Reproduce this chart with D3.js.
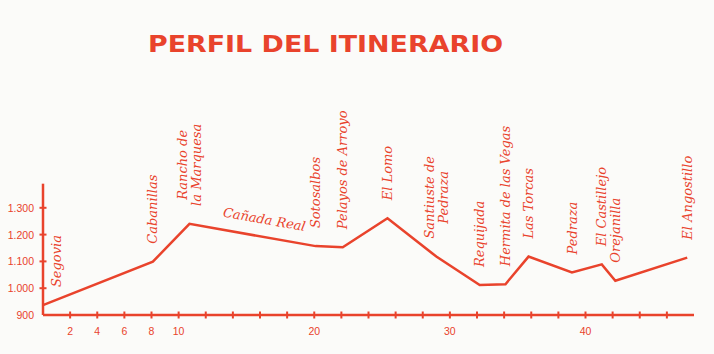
<!DOCTYPE html>
<html>
<head>
<meta charset="utf-8">
<script src="https://cdn.jsdelivr.net/npm/d3@7"></script>
<style>
  html, body { margin: 0; padding: 0; background: #fbfbf9; }
  svg { display: block; }
</style>
</head>
<body>
<div id="chart"></div>
<script>
// stops along the route (km from Segovia, altitude in m)
const stopNames = ["Segovia", "Cabanillas", "Rancho de\nla Marquesa", "Sotosalbos", "Pelayos de Arroyo",
    "El Lomo", "Santiuste de\nPedraza", "Requijada", "Hermita de las Vegas", "Las Torcas",
    "Pedraza", "El Castillejo", "Orejanilla", "El Angostillo"];
const stopKm = [0, 8.1, 10.8, 20.1, 22.1, 25.4, 29.0, 32.2, 34.1, 35.8, 39.0, 41.2, 42.2, 47.5];
const stopAlt = [937, 1099, 1240, 1157, 1153, 1261, 1118, 1012, 1015, 1118, 1059, 1089, 1028, 1114];

// route name drawn along a segment (between two stops)
const routeName = "Cañada Real";
const routeFrom = 2, routeTo = 3;

const xTicks = d3.range(2, 48, 2);
const xTickLabels = [2, 4, 6, 8, 10, 20, 30, 40];
const yTicks = [1000, 1100, 1200, 1300];
const yTickLabels = [900, 1000, 1100, 1200, 1300];

const title = "PERFIL DEL ITINERARIO";

const width = 714, height = 354;
const red = "#e9432c";

const x = d3.scaleLinear().domain([0, 48]).range([43, 694]);
const y = d3.scaleLinear().domain([900, 1400]).range([315, 181]);

const es = d3.formatLocale({ decimal: ",", thousands: ".", grouping: [3], currency: ["", "€"] });
const fmt = es.format(",d");

const svg = d3.select("#chart").append("svg")
    .attr("width", width)
    .attr("height", height);

svg.append("rect").attr("width", width).attr("height", height).attr("fill", "#fbfbf9");

// title
svg.append("text")
    .attr("x", 148)
    .attr("y", 52)
    .attr("textLength", 355)
    .attr("lengthAdjust", "spacingAndGlyphs")
    .attr("font-family", "DejaVu Sans")
    .attr("font-weight", "bold")
    .attr("font-size", 23)
    .attr("fill", red)
    .text(title);

// axes
const axes = svg.append("g").attr("stroke", red).attr("stroke-width", 2.5).attr("fill", "none");
axes.append("line").attr("x1", x(0)).attr("x2", x(0)).attr("y1", y(1390)).attr("y2", y(900));
axes.append("line").attr("x1", x(0)).attr("x2", x(48)).attr("y1", y(900)).attr("y2", y(900));

axes.selectAll(".xt").data(xTicks).join("line")
    .attr("x1", d => x(d)).attr("x2", d => x(d))
    .attr("y1", y(900) - 3.5).attr("y2", y(900) + 3.5)
    .attr("stroke-width", 2);
axes.selectAll(".yt").data(yTicks).join("line")
    .attr("x1", x(0) - 3.5).attr("x2", x(0) + 3.5)
    .attr("y1", d => y(d)).attr("y2", d => y(d))
    .attr("stroke-width", 2);

svg.append("g")
    .attr("font-family", "Liberation Sans")
    .attr("font-size", 10.5)
    .attr("fill", red)
    .attr("text-anchor", "middle")
    .selectAll("text").data(xTickLabels).join("text")
    .attr("x", d => x(d))
    .attr("y", 335)
    .text(d => d);

svg.append("g")
    .attr("font-family", "Liberation Sans")
    .attr("font-size", 10.5)
    .attr("fill", red)
    .attr("text-anchor", "end")
    .selectAll("text").data(yTickLabels).join("text")
    .attr("x", 34)
    .attr("y", d => y(d) + 4)
    .text(d => fmt(d));

// profile line
const line = d3.line().x(d => x(d[0])).y(d => y(d[1]));
svg.append("path")
    .datum(d3.zip(stopKm, stopAlt))
    .attr("d", line)
    .attr("fill", "none")
    .attr("stroke", red)
    .attr("stroke-width", 2.5)
    .attr("stroke-linejoin", "miter");

// stop labels, rotated, sitting above each point
const labelFont = "DejaVu Serif";
const labels = svg.append("g")
    .attr("font-family", labelFont)
    .attr("font-style", "italic")
    .attr("font-size", 13)
    .attr("fill", red);

stopNames.forEach((name, i) => {
    const lines = name.split("\n");
    const px = Math.max(x(stopKm[i]), x(0) + 13);
    const py = y(stopAlt[i]) - 18;
    const t = labels.append("text")
        .attr("transform", `translate(${px},${py}) rotate(-90)`);
    const spans = t.selectAll("tspan").data(lines).join("tspan")
        .attr("x", 0)
        .attr("y", (d, j) => `${(j - (lines.length - 1) / 2) * 1.1 + 0.35}em`)
        .text(d => d);
    if (lines.length > 1) {
        const maxLen = d3.max(spans.nodes(), n => n.getComputedTextLength());
        spans.attr("x", maxLen / 2).attr("text-anchor", "middle");
    }
});

// route label along the segment
const ax = x(stopKm[routeFrom]), ay = y(stopAlt[routeFrom]);
const bx = x(stopKm[routeTo]), by = y(stopAlt[routeTo]);
const ang = Math.atan2(by - ay, bx - ax) * 180 / Math.PI;
const mx = ax + (bx - ax) * 0.57, my = ay + (by - ay) * 0.57;
labels.append("text")
    .attr("transform", `translate(${mx},${my}) rotate(${ang}) translate(0,-13)`)
    .attr("text-anchor", "middle")
    .text(routeName);
</script>
</body>
</html>
